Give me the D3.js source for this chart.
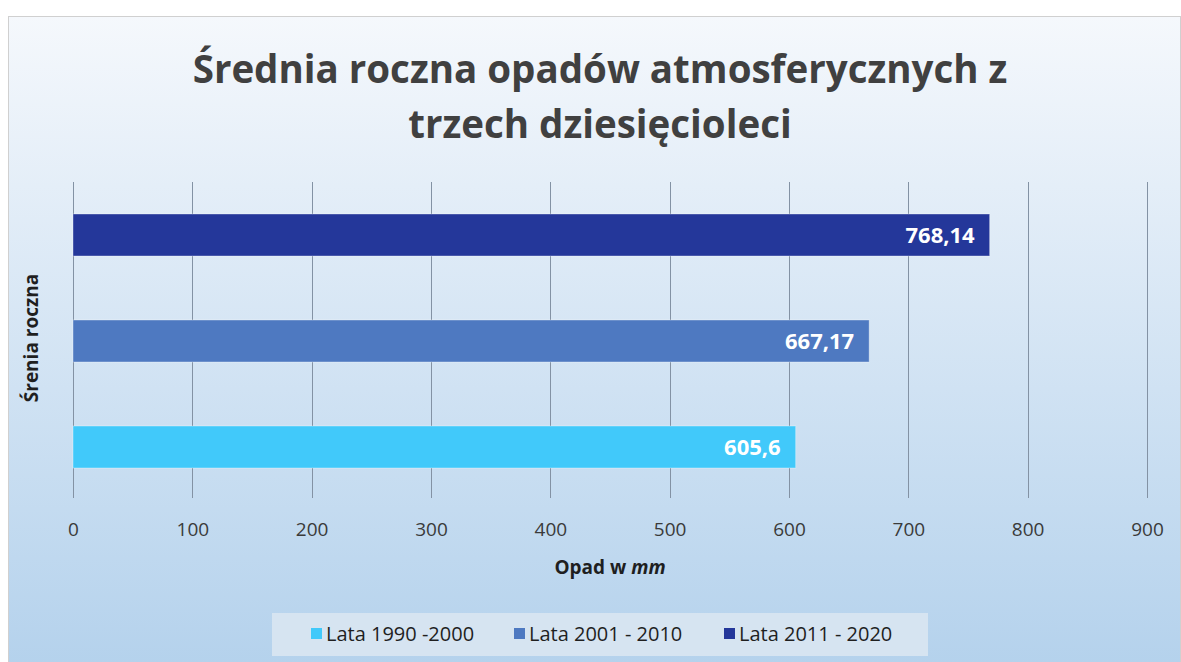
<!DOCTYPE html>
<html>
<head>
<meta charset="utf-8">
<script src="https://cdn.jsdelivr.net/npm/d3@7"></script>
<style>
  html, body { margin: 0; padding: 0; background: #ffffff; }
  svg { display: block; font-family: "Open Sans", "Noto Sans", sans-serif; }
</style>
</head>
<body>
<script>
const seriesNames = ["Lata 1990 -2000", "Lata 2001 - 2010", "Lata 2011 - 2020"];
const seriesValues = [605.6, 667.17, 768.14];
const seriesColors = ["#41c9fa", "#4e79c1", "#24379a"];
const xTicks = [0, 100, 200, 300, 400, 500, 600, 700, 800, 900];
const titleLines = ["Średnia roczna opadów atmosferycznych z", "trzech dziesięcioleci"];
const yTitle = "Śrenia roczna";

const width = 1181;
const height = 662;
const plot = { left: 73, right: 1147, top: 182, bottom: 500 };

const svg = d3.select("body").append("svg")
  .attr("width", width)
  .attr("height", height);

const defs = svg.append("defs");
const bg = defs.append("linearGradient").attr("id", "bg-grad")
  .attr("x1", 0).attr("y1", 0).attr("x2", 0).attr("y2", 1);
bg.append("stop").attr("offset", "0%").attr("stop-color", "#f5f8fc");
bg.append("stop").attr("offset", "100%").attr("stop-color", "#b3d1ec");

svg.append("rect")
  .attr("x", 8.5).attr("y", 16.5)
  .attr("width", width - 9).attr("height", height)
  .attr("fill", "url(#bg-grad)")
  .attr("stroke", "#d0d0d0")
  .attr("stroke-width", 1);

const x = d3.scaleLinear().domain([0, 900]).range([plot.left, plot.right]);
const y = d3.scaleBand()
  .domain(seriesNames.slice().reverse())
  .range([plot.top, plot.bottom])
  .padding(0);
const barH = 42;

// gridlines, running down past the plot like tick marks
svg.append("g")
  .selectAll("line")
  .data(xTicks)
  .join("line")
  .attr("x1", d => Math.round(x(d)) + 0.5)
  .attr("x2", d => Math.round(x(d)) + 0.5)
  .attr("y1", plot.top)
  .attr("y2", plot.bottom - 2)
  .attr("stroke", "#8392a4")
  .attr("stroke-width", 1);

// bars
const bars = svg.append("g")
  .selectAll("g")
  .data(seriesNames.map((name, i) => ({ name, value: seriesValues[i], color: seriesColors[i] })))
  .join("g");

bars.append("rect")
  .attr("x", x(0))
  .attr("y", d => y(d.name) + (y.bandwidth() - barH) / 2)
  .attr("width", d => x(d.value) - x(0))
  .attr("height", barH)
  .attr("fill", d => d.color)
  .attr("stroke", "rgba(255,255,255,0.35)")
  .attr("stroke-width", 1);

bars.append("text")
  .attr("x", d => x(d.value) - 15)
  .attr("y", d => y(d.name) + y.bandwidth() / 2)
  .attr("dy", "0.36em")
  .attr("text-anchor", "end")
  .attr("fill", "#ffffff")
  .attr("font-size", 22)
  .attr("font-weight", "bold")
  .text(d => String(d.value).replace(".", ","));

// x axis tick labels
const xAxis = d3.axisBottom(x).tickValues(xTicks).tickSize(0).tickPadding(0);
const axisG = svg.append("g")
  .attr("transform", `translate(0,${plot.bottom + 22})`)
  .call(xAxis);
axisG.select(".domain").remove();
axisG.selectAll("text")
  .attr("font-size", 19)
  .attr("font-family", "\"Open Sans\", sans-serif")
  .attr("fill", "#3a3a3a");

// x axis title
const xTitle = svg.append("text")
  .attr("x", (plot.left + plot.right) / 2)
  .attr("y", 574)
  .attr("text-anchor", "middle")
  .attr("font-size", 19)
  .attr("font-weight", "bold")
  .attr("fill", "#1f1f1f");
xTitle.append("tspan").text("Opad w ");
xTitle.append("tspan").attr("font-style", "italic").text("mm");

// y axis title
svg.append("text")
  .attr("transform", `translate(38,${(plot.top + plot.bottom) / 2 - 3}) rotate(-90)`)
  .attr("text-anchor", "middle")
  .attr("font-size", 19)
  .attr("font-weight", "bold")
  .attr("fill", "#1f1f1f")
  .text(yTitle);

// title
svg.append("g")
  .selectAll("text")
  .data(titleLines)
  .join("text")
  .attr("x", 600)
  .attr("y", (d, i) => 83 + i * 55)
  .attr("text-anchor", "middle")
  .attr("font-size", 38.5)
  .attr("font-weight", "bold")
  .attr("fill", "#404040")
  .text(d => d);

// legend
const legend = svg.append("g");
legend.append("rect")
  .attr("x", 272).attr("y", 613)
  .attr("width", 656).attr("height", 43)
  .attr("fill", "#d6e4f1");
const legendX = [311, 514, 724];
const items = legend.selectAll("g.item")
  .data(seriesNames)
  .join("g")
  .attr("class", "item")
  .attr("transform", (d, i) => `translate(${legendX[i]},634)`);
items.append("rect")
  .attr("x", 0).attr("y", -6)
  .attr("width", 11).attr("height", 11)
  .attr("fill", (d, i) => seriesColors[i]);
items.append("text")
  .attr("x", 15)
  .attr("dy", "0.35em")
  .attr("font-size", 20)
  .attr("fill", "#1f1f1f")
  .text(d => d);
</script>
</body>
</html>
